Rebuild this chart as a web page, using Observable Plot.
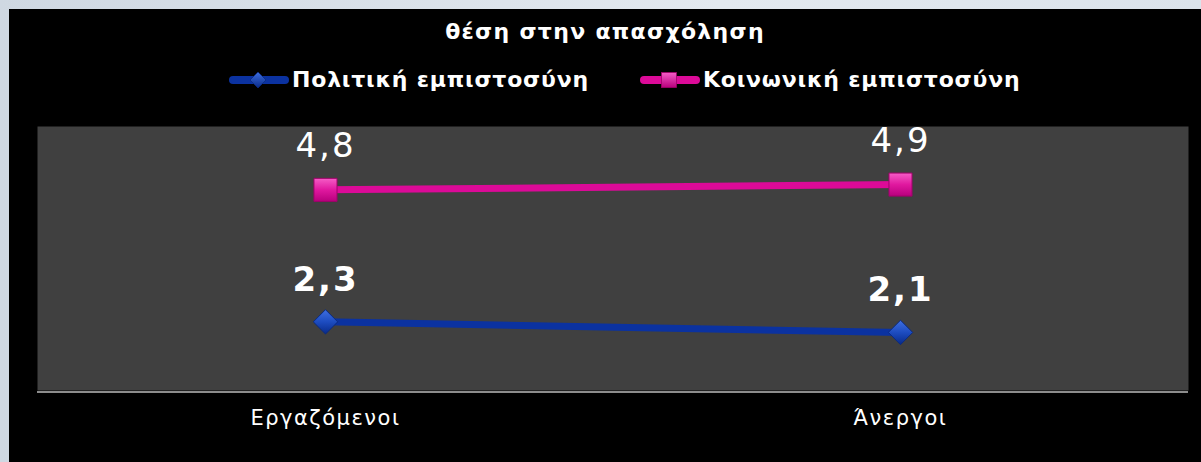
<!DOCTYPE html>
<html>
<head>
<meta charset="utf-8">
<script src="https://cdn.jsdelivr.net/npm/d3@7"></script>
<script src="https://cdn.jsdelivr.net/npm/@observablehq/plot@0.6"></script>
<style>
  html, body { margin: 0; padding: 0; }
  body { width: 1201px; height: 462px; overflow: hidden; background: linear-gradient(90deg, #cfd8e2, #e3e9ef 60%, #dbe3eb); position: relative; font-family: "DejaVu Sans", sans-serif; }
  #box { position: absolute; left: 9px; top: 9px; width: 1192px; height: 453px; background: #000; }
  #title { position: absolute; left: 0; top: 10px; width: 1192px; text-align: center; color: #fff; font-weight: bold; font-size: 22px; letter-spacing: 1.3px; }
  #legend { position: absolute; left: 219px; top: 58px; display: flex; align-items: center; color: #fff; font-weight: bold; font-size: 22px; letter-spacing: 0.8px; }
  .item { display: flex; align-items: center; margin-right: 50px; }
  .item svg { margin-right: 2px; }
  #chart { position: absolute; left: 0; top: 100px; }
</style>
</head>
<body>
<div id="box">
  <div id="title"></div>
  <div id="legend"></div>
  <div id="chart"></div>
</div>
<script>
const categories = ["Εργαζόμενοι", "Άνεργοι"];
const seriesNames = ["Πολιτική εμπιστοσύνη", "Κοινωνική εμπιστοσύνη"];
const politicalTrust = [2.3, 2.1];
const socialTrust = [4.8, 4.9];
const seriesColors = ["#0b32a0", "#dc0a98"];
const titleText = "θέση στην απασχόληση";

document.getElementById("title").textContent = titleText;

// legend
const legend = document.getElementById("legend");
seriesNames.forEach((name, i) => {
  const item = document.createElement("div");
  item.className = "item";
  const marker = i === 0
    ? `<path d="M30,2 L38,10 L30,18 L22,10 Z" fill="url(#lg${i})" stroke="#0a2a80" stroke-width="0.8"/>`
    : `<rect x="22.5" y="2.5" width="15" height="15" fill="url(#lg${i})" stroke="#a0006a" stroke-width="0.8"/>`;
  const light = i === 0 ? "#3f6fe0" : "#f55cc6";
  const dark = i === 0 ? "#082a88" : "#b8007d";
  item.innerHTML = `<svg width="62" height="20"><defs><linearGradient id="lg${i}" x1="0" y1="0" x2="0" y2="1"><stop offset="0" stop-color="${light}"/><stop offset="1" stop-color="${dark}"/></linearGradient></defs>
    <line x1="5" y1="10" x2="57" y2="10" stroke="${seriesColors[i]}" stroke-width="8" stroke-linecap="round"/>${marker}</svg><span>${name}</span>`;
  legend.appendChild(item);
});

const data = [];
categories.forEach((c, j) => {
  data.push({cat: c, value: politicalTrust[j], series: seriesNames[0]});
  data.push({cat: c, value: socialTrust[j], series: seriesNames[1]});
});
const fmt = v => v.toFixed(1).replace(".", ",");

const chart = Plot.plot({
  width: 1192,
  height: 353,
  marginTop: 17,
  marginBottom: 72,
  marginLeft: 28,
  marginRight: 13,
  style: {background: "transparent", color: "#fff", fontFamily: "DejaVu Sans, sans-serif"},
  x: {type: "point", domain: categories, padding: 0.5, label: null},
  y: {domain: [1, 6], axis: null},
  color: {domain: seriesNames, range: seriesColors},
  marks: [
    Plot.frame({fill: "#404040", stroke: null}),
    Plot.ruleY([1], {stroke: "#8c8c8c", strokeWidth: 2, dy: 1.5}),
    Plot.axisX({tickSize: 0, tickPadding: 20, fontSize: 21, fill: "#fff", label: null}),
    Plot.line(data, {x: "cat", y: "value", z: "series", stroke: "series", strokeWidth: 7}),
    Plot.dot(data.filter(d => d.series === seriesNames[0]), {x: "cat", y: "value", symbol: "diamond2", r: 11, fill: "url(#gBlue)", stroke: "#0a2a80", strokeWidth: 1}),
    Plot.dot(data.filter(d => d.series === seriesNames[1]), {x: "cat", y: "value", symbol: "square", r: 13, fill: "url(#gPink)", stroke: "#a0006a", strokeWidth: 1}),
    Plot.text(data.filter(d => d.series === seriesNames[0]), {x: "cat", y: "value", text: d => fmt(d.value), dy: -31, lineAnchor: "bottom", fontSize: 34, fontWeight: "bold", fill: "#fff"}),
    Plot.text(data.filter(d => d.series === seriesNames[1]), {x: "cat", y: "value", text: d => fmt(d.value), dy: -33, lineAnchor: "bottom", fontSize: 34, fill: "#fff"})
  ]
});

const defs = d3.create("svg:defs");
defs.html(`<linearGradient id="gBlue" x1="0" y1="0" x2="0" y2="1"><stop offset="0" stop-color="#3f6fe0"/><stop offset="0.5" stop-color="#1d4cc0"/><stop offset="1" stop-color="#082a88"/></linearGradient>
<linearGradient id="gPink" x1="0" y1="0" x2="0" y2="1"><stop offset="0" stop-color="#f55cc6"/><stop offset="0.5" stop-color="#e0189f"/><stop offset="1" stop-color="#b8007d"/></linearGradient>`);
chart.insertBefore(defs.node(), chart.firstChild);
d3.select(chart).selectAll('g[aria-label="x-axis tick label"] text').attr("letter-spacing", "1.5px");
d3.select(chart).selectAll('g[aria-label="text"] text').attr("letter-spacing", "2px");
document.getElementById("chart").appendChild(chart);
</script>
</body>
</html>
